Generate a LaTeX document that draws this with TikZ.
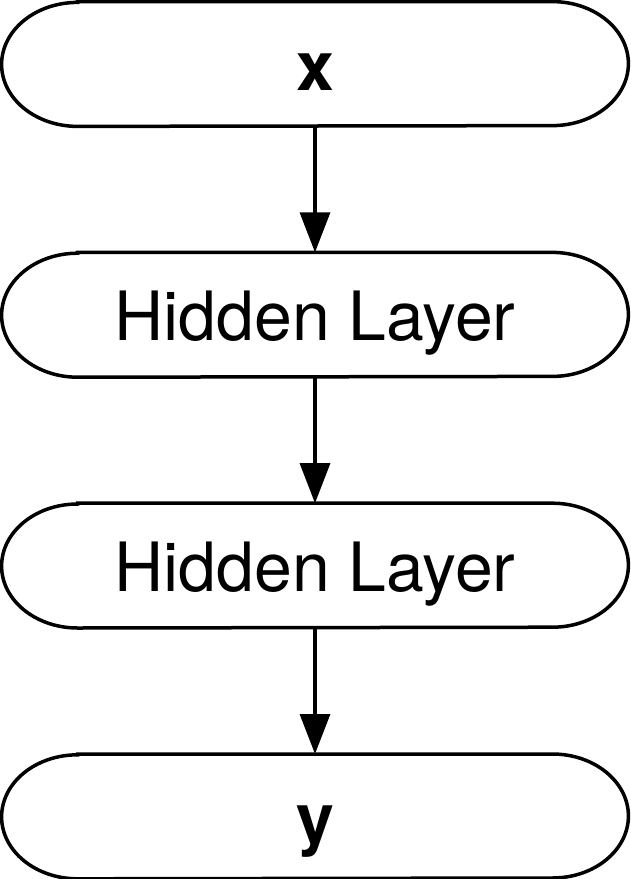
\documentclass[tikz,border=0pt]{standalone}
\usepackage{fontspec}
\setmainfont{TeX Gyre Heros}
\usetikzlibrary{positioning,arrows.meta}

\tikzset{
	layer/.style={minimum width=313pt, minimum height=62pt, inner sep=0pt, text height=26pt, text depth=0pt, font=\fontsize{34}{38}\selectfont},
	flow/.style={-{Triangle[length=20pt,width=15pt]}, line width=1.6pt},
}

\begin{document}
\begin{tikzpicture}
		\useasboundingbox (0,0) rectangle (315.5pt,-439.5pt);
		\node[layer] (x) at (157.5pt,-32pt) {\textbf{x}};
		\node[layer, below=63pt of x] (h1) {Hidden Layer};
		\node[layer, below=63pt of h1] (h2) {Hidden Layer};
		\node[layer, below=63pt of h2] (y) {\textbf{y}};
		% pill outlines
		\foreach \n in {x,h1,h2,y}
		\draw[line width=1.75pt] ([xshift=38pt]\n.north west) -- ([xshift=-38pt]\n.north east)
			arc[start angle=90, end angle=-90, x radius=38pt, y radius=31pt]
			-- ([xshift=38pt]\n.south west)
			arc[start angle=270, end angle=90, x radius=38pt, y radius=31pt] -- cycle;
		\draw[flow] (x) -- (h1);
		\draw[flow] (h1) -- (h2);
		\draw[flow] (h2) -- (y);
		\end{tikzpicture}
\end{document}
